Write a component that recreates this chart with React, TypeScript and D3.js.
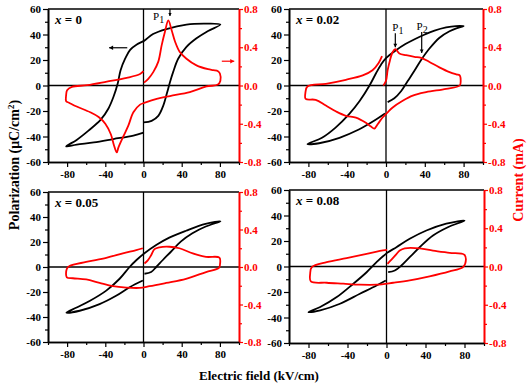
import React, { useEffect, useRef } from "react";
import * as d3 from "d3";

const W = 531;
const H = 388;
const FONT = '"Liberation Serif", "Times New Roman", serif';
const RED = "#ff0000";

// axis ticks
const fieldTicks = [-80, -40, 0, 40, 80];
const fieldMinor = [-100, -60, -20, 20, 60, 100];
const polTicks = [-60, -40, -20, 0, 20, 40, 60];
const polMinor = [-50, -30, -10, 10, 30, 50];
const curTicks = [-0.8, -0.4, 0, 0.4, 0.8];
const curMinor = [-0.6, -0.2, 0.2, 0.6];

// P-E loops, [E kV/cm, P uC/cm2], starting at E=0 on the rising branch
const loopX0 = [
  [0, -29], [8.5, -27.7], [15.5, -23.8], [20.7, -15.8], [24.8, -5.3], [27.7, 2.6], [31, 10.5],
  [36.3, 21], [45, 30.3], [55.5, 37], [67.6, 42.8], [80.5, 47.8],
  [66, 48.5], [45, 47.8], [24, 44.3], [10, 40.4], [0.5, 35], [-7, 32.2], [-14, 28], [-19, 21.4],
  [-24, 12], [-27, 1.6], [-31.5, -9], [-36.7, -18], [-45, -27], [-57.6, -35.4], [-70, -42.7], [-81, -47.8],
  [-70, -46.4], [-52, -44.6], [-31.5, -42], [-10.6, -39.3], [0, -37],
];
const loopX002 = [
  [1.7, -13], [8.6, -10], [15.5, -4.5], [22.4, 3.5], [29.3, 11.5], [36.2, 20], [44.8, 29],
  [55.2, 37.5], [65.5, 42.5], [72.5, 44.8], [80, 46.5],
  [72, 46.6], [62, 45.5], [50, 43], [40, 40], [30, 36.5], [20, 32.5], [10, 27.5], [0, 21.5],
  [-5, 16.5], [-10, 10], [-17, 0], [-27, -12], [-38, -22.5], [-52, -33], [-66, -41], [-81, -46],
  [-69, -45.3], [-48, -41], [-28, -34.5], [-14, -28.5], [-1, -22],
];
const loopX005 = [
  [1, -5.4], [8, -4], [13.3, 0], [20, 5.4], [28.7, 12.2], [39, 20.3], [51.2, 27], [65.2, 32.4], [80.6, 36.5],
  [65, 34.5], [44.5, 29], [27, 23.5], [13.3, 17.6], [1, 11], [-7.6, 5.4], [-14.6, 0], [-25, -9.4],
  [-39, -18.9], [-56, -27], [-70, -32.4], [-80.7, -36.5],
  [-66.8, -35], [-46, -29.7], [-28.7, -23], [-14.6, -16.2], [-0.7, -10.8],
];
const loopX008 = [
  [1.7, -4.5], [8.5, -3.1], [15.3, 0.8], [23.8, 7.3], [34, 15.1], [47.7, 24.3], [62.9, 30.8], [80, 36],
  [61.3, 33.6], [40.9, 28.2], [23.8, 21.7], [10.2, 15.1], [0.6, 10.7], [-10.2, 3.4], [-20.4, -4.5],
  [-34, -13.5], [-51, -24], [-68, -31.8], [-80, -35.8],
  [-68, -34.4], [-47.7, -29.2], [-27.3, -21.4], [-10.2, -14.9], [-0.7, -11],
];

// I-E loops, [E kV/cm, I mA]
const curX0 = [
  [0.5, 0.03], [5, 0.07], [10.2, 0.14], [15.5, 0.25], [19, 0.42], [22.4, 0.56], [26, 0.68], [29.4, 0.58],
  [33, 0.46], [38, 0.35], [45, 0.28], [55.5, 0.21], [67.6, 0.17], [73, 0.16], [78, 0.15], [80, 0.125],
  [80.5, 0.05], [78, 0.01], [66, -0.01], [48.5, -0.07], [27.7, -0.11], [13.8, -0.14], [1.5, -0.18],
  [-3.6, -0.2], [-10.6, -0.28], [-15.9, -0.42], [-21, -0.53], [-26.3, -0.65], [-28, -0.7], [-30.8, -0.63],
  [-34.2, -0.51], [-40, -0.4], [-47, -0.33], [-55.8, -0.28], [-70, -0.22], [-78, -0.18], [-81, -0.165],
  [-81, -0.1], [-80, -0.05], [-75, -0.014], [-59, 0.003], [-38.4, 0.04], [-17.6, 0.08], [-3.6, 0.12], [0, 0.15],
];
const curX002 = [
  [-2.8, 0], [0, 0.05], [1.7, 0.16], [4, 0.26], [6.9, 0.35], [9.6, 0.38], [13.8, 0.335], [20.7, 0.317],
  [29.3, 0.3], [36.2, 0.29], [44.8, 0.246], [55, 0.19], [65.5, 0.14], [72.5, 0.116], [76, 0.106], [77, 0.05],
  [76, 0], [62, -0.035], [41.4, -0.07], [27.6, -0.106], [17.2, -0.16], [6.9, -0.23], [1.7, -0.28],
  [-3.5, -0.335], [-8.6, -0.405], [-12, -0.45], [-15.5, -0.43], [-20.7, -0.39], [-31, -0.335],
  [-41.4, -0.317], [-51.8, -0.27], [-62, -0.21], [-72.5, -0.15], [-82.8, -0.14], [-83, -0.07], [-81, -0.01],
  [-62, 0.018], [-41.4, 0.06], [-24, 0.106], [-13.9, 0.16], [-7.6, 0.236], [-4.1, 0.307],
];
const curX005 = [
  [1, 0.037], [4.5, 0.07], [8, 0.126], [11.5, 0.19], [16.7, 0.21], [27, 0.216], [37.6, 0.2], [51.6, 0.145],
  [65.5, 0.108], [79.5, 0.1], [80, 0.02], [79, -0.01], [65.5, -0.054], [44.5, -0.126], [23.7, -0.17],
  [6.3, -0.205], [-4.2, -0.223], [-18, -0.22], [-32, -0.205], [-46, -0.17], [-60, -0.133], [-74, -0.12],
  [-80.3, -0.11], [-80.3, -0.02], [-77.5, 0.01], [-60, 0.054], [-39, 0.097], [-21.6, 0.145], [-7.6, 0.18], [-0.7, 0.2],
];
const curX008 = [
  [1, 0.028], [5.1, 0.073], [10.2, 0.13], [13.6, 0.167], [18.7, 0.19], [34, 0.19], [47.6, 0.167],
  [64.7, 0.143], [80, 0.122], [80.7, 0.028], [78.3, -0.007], [64.7, -0.052], [44.2, -0.104], [23.8, -0.146],
  [6.8, -0.17], [-10.2, -0.19], [-27.3, -0.19], [-44.3, -0.18], [-61.3, -0.17], [-77.6, -0.156],
  [-78.3, -0.076], [-76.6, -0.007], [-61.3, 0.045], [-40.9, 0.087], [-20.4, 0.132], [-6.8, 0.164], [0.6, 0.174],
];

const compositions = ["0", "0.02", "0.05", "0.08"];

// panel boxes on the page
const panels = [
  { x0: 48, x1: 239, y0: 9, y1: 162, loop: loopX0, cur: curX0 },
  { x0: 289, x1: 483, y0: 9, y1: 162, loop: loopX002, cur: curX002 },
  { x0: 48, x1: 239, y0: 192, y1: 342, loop: loopX005, cur: curX005 },
  { x0: 289, x1: 484, y0: 190, y1: 343, loop: loopX008, cur: curX008 },
];

function styleAxis(g: any, color: string) {
  g.attr("font-family", FONT).attr("font-size", 11).attr("font-weight", "bold");
  g.select(".domain").attr("stroke", color).attr("stroke-width", 1.6);
  g.selectAll(".tick line").attr("stroke", color).attr("stroke-width", 1.2);
  g.selectAll(".tick text").attr("fill", color);
}

function arrow(g: any, x1: number, y1: number, x2: number, y2: number, color: string, head = 4) {
  g.append("line").attr("x1", x1).attr("y1", y1).attr("x2", x2).attr("y2", y2)
    .attr("stroke", color).attr("stroke-width", 1.2);
  const a = Math.atan2(y2 - y1, x2 - x1);
  const pts = [
    [x2, y2],
    [x2 - head * Math.cos(a) + head * 0.55 * Math.sin(a), y2 - head * Math.sin(a) - head * 0.55 * Math.cos(a)],
    [x2 - head * Math.cos(a) - head * 0.55 * Math.sin(a), y2 - head * Math.sin(a) + head * 0.55 * Math.cos(a)],
  ];
  g.append("path").attr("d", "M" + pts.map((p) => p.join(",")).join("L") + "Z").attr("fill", color);
}

function pLabel(g: any, x: number, y: number, n: string) {
  const t = g.append("text").attr("x", x).attr("y", y).attr("font-family", FONT).attr("font-size", 11).attr("fill", "#000");
  t.append("tspan").text("P");
  t.append("tspan").attr("dy", 3).attr("font-size", 10).text(n);
}

const intLabel = (d: any) => String(d);
const curLabel = (d: any) => (Math.abs(d) < 1e-9 ? "0.0" : Number(d).toFixed(1));

function drawPanel(svg: any, p: any, i: number) {
  const x = d3.scaleLinear().domain([-100, 100]).range([p.x0, p.x1]);
  const yP = d3.scaleLinear().domain([-60, 60]).range([p.y1, p.y0]);
  const yI = d3.scaleLinear().domain([-0.8, 0.8]).range([p.y1, p.y0]);
  const g = svg.append("g");

  // zero lines
  g.append("line").attr("x1", x(-100)).attr("x2", x(100)).attr("y1", yP(0)).attr("y2", yP(0))
    .attr("stroke", "#000").attr("stroke-width", 1.3);
  g.append("line").attr("x1", x(0)).attr("x2", x(0)).attr("y1", yP(-60)).attr("y2", yP(60))
    .attr("stroke", "#000").attr("stroke-width", 1.3);

  const lineP = d3.line<number[]>().x((d) => x(d[0])).y((d) => yP(d[1])).curve(d3.curveCatmullRom.alpha(0.5));
  const lineI = d3.line<number[]>().x((d) => x(d[0])).y((d) => yI(d[1])).curve(d3.curveCatmullRom.alpha(0.5));

  g.append("path").attr("d", lineP(p.loop)).attr("fill", "none").attr("stroke", "#000")
    .attr("stroke-width", 1.8).attr("stroke-linejoin", "round");
  g.append("path").attr("d", lineI(p.cur)).attr("fill", "none").attr("stroke", RED)
    .attr("stroke-width", 1.8).attr("stroke-linejoin", "round");

  // frame top
  g.append("line").attr("x1", p.x0).attr("x2", p.x1).attr("y1", p.y0).attr("y2", p.y0)
    .attr("stroke", "#000").attr("stroke-width", 1.6);

  // minor ticks
  g.append("g").attr("transform", `translate(${p.x0},0)`)
    .call(d3.axisLeft(yP).tickValues(polMinor).tickSize(3).tickSizeOuter(0).tickFormat(() => ""))
    .call((a: any) => styleAxis(a, "#000"));
  g.append("g").attr("transform", `translate(${p.x1},0)`)
    .call(d3.axisRight(yI).tickValues(curMinor).tickSize(3).tickSizeOuter(0).tickFormat(() => ""))
    .call((a: any) => styleAxis(a, RED));
  g.append("g").attr("transform", `translate(0,${p.y1})`)
    .call(d3.axisBottom(x).tickValues(fieldMinor).tickSize(3).tickSizeOuter(0).tickFormat(() => ""))
    .call((a: any) => styleAxis(a, "#000"));

  // major axes
  g.append("g").attr("transform", `translate(${p.x0},0)`)
    .call(d3.axisLeft(yP).tickValues(polTicks).tickSize(5).tickPadding(2).tickSizeOuter(0).tickFormat(intLabel))
    .call((a: any) => styleAxis(a, "#000"));
  g.append("g").attr("transform", `translate(${p.x1},0)`)
    .call(d3.axisRight(yI).tickValues(curTicks).tickSize(4).tickPadding(1).tickSizeOuter(0).tickFormat(curLabel))
    .call((a: any) => styleAxis(a, RED));
  g.append("g").attr("transform", `translate(0,${p.y1})`)
    .call(d3.axisBottom(x).tickValues(fieldTicks).tickSize(5).tickPadding(3).tickSizeOuter(0).tickFormat(intLabel))
    .call((a: any) => styleAxis(a, "#000"));

  // composition label
  const t = g.append("text").attr("x", p.x0 + 7).attr("y", p.y0 + 15)
    .attr("font-family", FONT).attr("font-size", 13).attr("font-weight", "bold").attr("fill", "#000");
  t.append("tspan").attr("font-style", "italic").text("x");
  t.append("tspan").text(" = " + compositions[i]);

  // annotations
  if (i === 0) {
    arrow(g, x(-17), yP(29.6), x(-36), yP(29.6), "#000");
    arrow(g, x(82), yI(0.254), x(95), yI(0.254), RED);
    pLabel(g, x(10), yP(51.5), "1");
    arrow(g, x(27.7), yP(60), x(27.7), yP(54.5), "#000", 3);
  }
  if (i === 1) {
    pLabel(g, x(6.5), yP(43), "1");
    arrow(g, x(9.6), yP(41), x(9.6), yP(30), "#000", 3.5);
    pLabel(g, x(31.5), yP(43.5), "2");
    arrow(g, x(36.8), yP(42), x(36.8), yP(25.5), "#000", 3.5);
  }
}

const App = () => {
  const ref = useRef<SVGSVGElement>(null);

  useEffect(() => {
    const svg = d3.select(ref.current);
    svg.selectAll("*").remove();

    panels.forEach((p, i) => drawPanel(svg, p, i));

    // axis titles
    const yt = svg.append("text").attr("transform", "translate(19,165) rotate(-90)")
      .attr("text-anchor", "middle").attr("font-family", FONT).attr("font-size", 14)
      .attr("font-weight", "bold").attr("fill", "#000");
    yt.append("tspan").text("Polarization (\u03BCC/cm");
    yt.append("tspan").attr("dy", -5).attr("font-size", 9).text("2");
    yt.append("tspan").attr("dy", 5).text(")");

    svg.append("text").attr("transform", "translate(523,180) rotate(-90)")
      .attr("text-anchor", "middle").attr("font-family", FONT).attr("font-size", 14)
      .attr("font-weight", "bold").attr("fill", RED).text("Current (mA)");

    svg.append("text").attr("x", 259).attr("y", 380)
      .attr("text-anchor", "middle").attr("font-family", FONT).attr("font-size", 13)
      .attr("font-weight", "bold").attr("fill", "#000").text("Electric field (kV/cm)");
  }, []);

  return (
    <svg ref={ref} width={W} height={H}
      style={{ position: "absolute", left: 0, top: 0, background: "#fff" }} />
  );
};

export default App;
